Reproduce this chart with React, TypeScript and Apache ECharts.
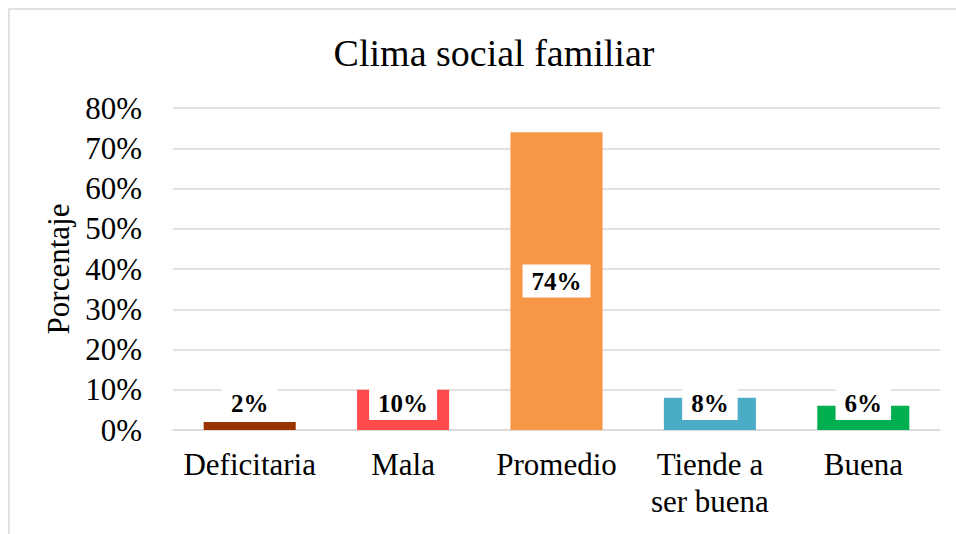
import React, { useEffect, useRef } from "react";
import * as echarts from "echarts";

const categories = ["Deficitaria", "Mala", "Promedio", "Tiende a\nser buena", "Buena"];
const values = [2, 10, 74, 8, 6];
const colors = ["#993300", "#FF4B4B", "#F79646", "#4BACC6", "#00B050"];
const yTicks = { min: 0, max: 80, interval: 10 };
const titleText = "Clima social familiar";
const yAxisName = "Porcentaje";

const FONT = "'Liberation Serif', 'Times New Roman', serif";

export default function App() {
  const ref = useRef<HTMLDivElement>(null);
  useEffect(() => {
    if (!ref.current) return;
    const chart = echarts.init(ref.current, null, { renderer: "svg" });
    chart.setOption({
      animation: false,
      backgroundColor: "#ffffff",
      title: {
        text: titleText,
        left: 489,
        textAlign: "center",
        top: 29,
        textStyle: { fontFamily: FONT, fontSize: 38, fontWeight: "normal", color: "#000" },
      },
      graphic: [
        {
          type: "rect",
          shape: { x: 9, y: 9, width: 980, height: 560 },
          style: { fill: "none", stroke: "#d9d9d9", lineWidth: 1.5 },
          silent: true,
        },
      ],
      grid: { left: 173, right: 16, top: 108, bottom: 104, containLabel: false },
      xAxis: {
        type: "category",
        data: categories,
        axisLine: { show: true, lineStyle: { color: "#d9d9d9", width: 1.5 } },
        axisTick: { show: false },
        axisLabel: {
          fontFamily: FONT,
          fontSize: 31,
          color: "#000",
          margin: 16,
          lineHeight: 37,
          interval: 0,
        },
      },
      yAxis: {
        type: "value",
        min: yTicks.min,
        max: yTicks.max,
        interval: yTicks.interval,
        name: yAxisName,
        nameLocation: "middle",
        nameGap: 97,
        nameTextStyle: { fontFamily: FONT, fontSize: 31, color: "#000" },
        axisLine: { show: false },
        axisTick: { show: false },
        splitLine: { lineStyle: { color: "#d9d9d9", width: 1.5 } },
        axisLabel: {
          fontFamily: FONT,
          fontSize: 31,
          color: "#000",
          margin: 31,
          formatter: "{value}%",
        },
      },
      series: [
        {
          type: "bar",
          barWidth: "60%",
          data: values.map((v, i) => ({
            value: v,
            itemStyle: { color: colors[i] },
            label: {
              show: true,
              position: v >= 20 ? "inside" : "insideBottom",
              distance: 10,
              formatter: "{c}%",
              fontFamily: FONT,
              fontSize: 25,
              fontWeight: "bold",
              color: "#000",
              backgroundColor: "#ffffff",
              padding: [4, 9, 4, 9],
              lineHeight: 25,
            },
          })),
        },
      ],
    });
    return () => chart.dispose();
  }, []);
  return (
    <div
      ref={ref}
      style={{ position: "fixed", left: 0, top: 0, width: 956, height: 534 }}
    />
  );
}
